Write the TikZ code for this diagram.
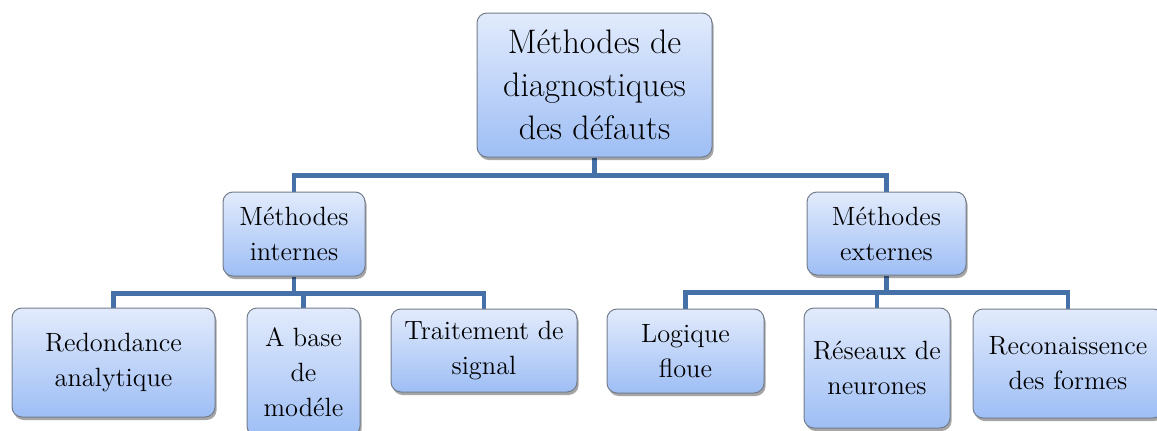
\documentclass[tikz,border=0pt]{standalone}
\usetikzlibrary{positioning,shadows,backgrounds}
\definecolor{boxtop}{RGB}{226,235,252}
\definecolor{boxbot}{RGB}{158,190,245}
\definecolor{boxline}{RGB}{115,125,140}
\definecolor{linkblue}{RGB}{70,112,168}
\tikzset{
  mybox/.style={
    draw=boxline, line width=0.5pt, rounded corners=5pt, top color=boxtop,
    bottom color=boxbot, align=center, inner sep=0pt,
    drop shadow={shadow xshift=0.8pt, shadow yshift=-1.5pt, opacity=0.35, fill=black}
  },
  rootbox/.style={
    mybox, font=\fontsize{17}{21.5}\selectfont
  },
  subbox/.style={
    mybox, font=\fontsize{13.2}{17.5}\selectfont
  },
  link/.style={
    draw=linkblue, line width=2.2pt
  }
}

\begin{document}
\begin{tikzpicture}[x=0.5pt, y=0.5pt]
 \useasboundingbox (0,0) rectangle (1157,430);

 \node[rootbox, minimum width=117.5pt, minimum height=72pt] (diag) at (594.5,345) {Méthodes de\\diagnostiques\\des défauts};
 \node[subbox, minimum width=71pt, minimum height=42pt] (internes) at (294,196) {Méthodes\\internes};
 \node[subbox, minimum width=79.5pt, minimum height=41.5pt] (externes) at (886.5,196.5) {Méthodes\\externes};
 \node[subbox, minimum width=101.5pt, minimum height=54.5pt] (redond) at (113.5,67.5) {Redondance\\analytique};
 \node[subbox, minimum width=56.5pt, minimum height=64pt] (modele) at (303.5,58) {A base\\de\\modéle};
 \node[subbox, minimum width=93pt, minimum height=41.5pt] (signal) at (484,79.5) {Traitement de\\signal};
 \node[subbox, minimum width=78.5pt, minimum height=42pt] (floue) at (685.5,79) {Logique\\floue};
 \node[subbox, minimum width=73pt, minimum height=60pt] (neurones) at (877,62) {Réseaux de\\neurones};
 \node[subbox, minimum width=95pt, minimum height=54.5pt] (formes) at (1068,66.5) {Reconaissence\\des formes};

 \begin{scope}[on background layer]
 \draw[link] (diag.south) -- ++(0,-18) -| (internes.north);
 \draw[link] (diag.south) -- ++(0,-18) -| (externes.north);
 \foreach \n in {redond, modele, signal} {
   \draw[link] (internes.south) -- ++(0,-17) -| (\n.north);
  }
 \foreach \n in {floue, neurones, formes} {
   \draw[link] (externes.south) -- ++(0,-17) -| (\n.north);
  }
 \end{scope}
\end{tikzpicture}
\end{document}
